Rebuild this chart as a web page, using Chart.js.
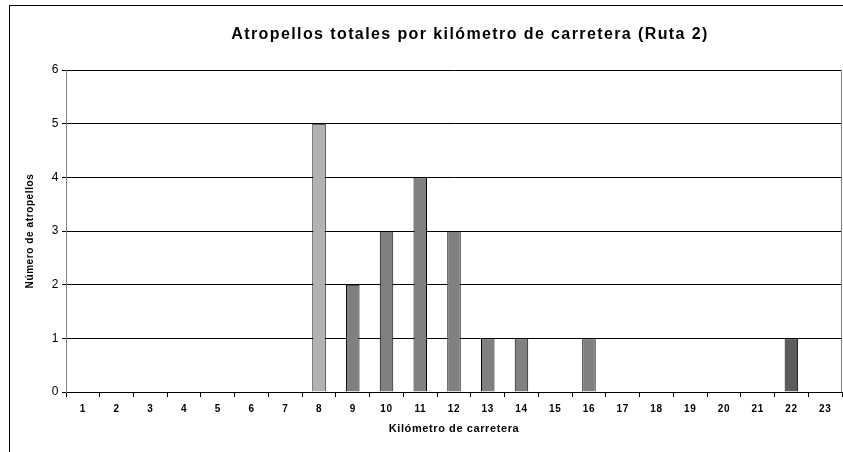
<!DOCTYPE html>
<html>
<head>
<meta charset="utf-8">
<script src="https://cdn.jsdelivr.net/npm/chart.js@4"></script>
<style>
  html, body { margin: 0; padding: 0; background: #fff; }
  #wrap { width: 843px; height: 452px; position: relative; }
</style>
</head>
<body>
<div id="wrap"><canvas id="chart"></canvas></div>
<script>
const kms = ['1','2','3','4','5','6','7','8','9','10','11','12','13','14','15','16','17','18','19','20','21','22','23']
const atropellos = [0,0,0,0,0,0,0,5,2,3,4,3,1,1,0,1,0,0,0,0,0,1,0]
const barColors = kms.map(k => k === '8' ? '#b3b3b3' : (k === '22' ? '#5c5c5c' : '#808080'))

const chartTitle = 'Atropellos totales por kilómetro de carretera (Ruta 2)'

// excel export text is a bit spaced out
const spacingPlugin = {
  id: 'spacing',
  beforeUpdate(chart) { chart.ctx.letterSpacing = '0.6px' },
  beforeDraw(chart) { chart.ctx.letterSpacing = '0.6px' }
}

// frame, plot border and title drawn by hand like the excel export
const framePlugin = {
  id: 'frame',
  afterDraw(chart) {
    const ctx = chart.ctx
    const a = chart.chartArea
    ctx.save()
    ctx.strokeStyle = '#000'
    ctx.lineWidth = 1
    ctx.strokeRect(9.5, 5.5, 1000, 1000)
    ctx.strokeStyle = '#808080'
    ctx.beginPath()
    ctx.moveTo(a.right - 0.5, a.top)
    ctx.lineTo(a.right - 0.5, a.bottom)
    ctx.stroke()
    ctx.fillStyle = '#000'
    ctx.font = 'bold 16px "Liberation Sans", Arial, sans-serif'
    ctx.letterSpacing = '1.4px'
    ctx.textAlign = 'center'
    ctx.textBaseline = 'middle'
    ctx.fillText(chartTitle, 470, 35)
    ctx.restore()
  }
}

new Chart(document.getElementById('chart'), {
  type: 'bar',
  data: {
    labels: kms,
    datasets: [{
      data: atropellos,
      backgroundColor: barColors,
      borderColor: '#000',
      borderWidth: 1,
      categoryPercentage: 1,
      barPercentage: 0.4
    }]
  },
  options: {
    responsive: true,
    maintainAspectRatio: false,
    animation: false,
    layout: { padding: { top: 70, right: 1, left: 0, bottom: 0 } },
    plugins: {
      legend: { display: false },
      tooltip: { enabled: false }
    },
    scales: {
      x: {
        grid: { offset: true, drawOnChartArea: false, color: '#000', tickLength: 5 },
        border: { color: '#000' },
        ticks: { color: '#000', font: { family: 'Liberation Sans', size: 10, weight: 'bold' }, maxRotation: 0, padding: 6 },
        title: { display: true, text: 'Kilómetro de carretera', color: '#000', font: { family: 'Liberation Sans', size: 11, weight: 'bold' }, padding: { top: 0, bottom: 16 } },
        afterFit(scale) { scale.height = 60 }
      },
      y: {
        min: 0,
        max: 6,
        ticks: { stepSize: 1, color: '#000', font: { family: 'Liberation Sans', size: 12 }, padding: 3 },
        grid: { color: '#000', tickLength: 4 },
        border: { color: '#808080' },
        title: { display: true, text: 'Número de atropellos', color: '#000', font: { family: 'Liberation Sans', size: 10, weight: 'bold' }, padding: { top: 24, bottom: 0 } },
        afterFit(scale) { scale.width = 66 }
      }
    }
  },
  plugins: [spacingPlugin, framePlugin]
})
</script>
</body>
</html>
